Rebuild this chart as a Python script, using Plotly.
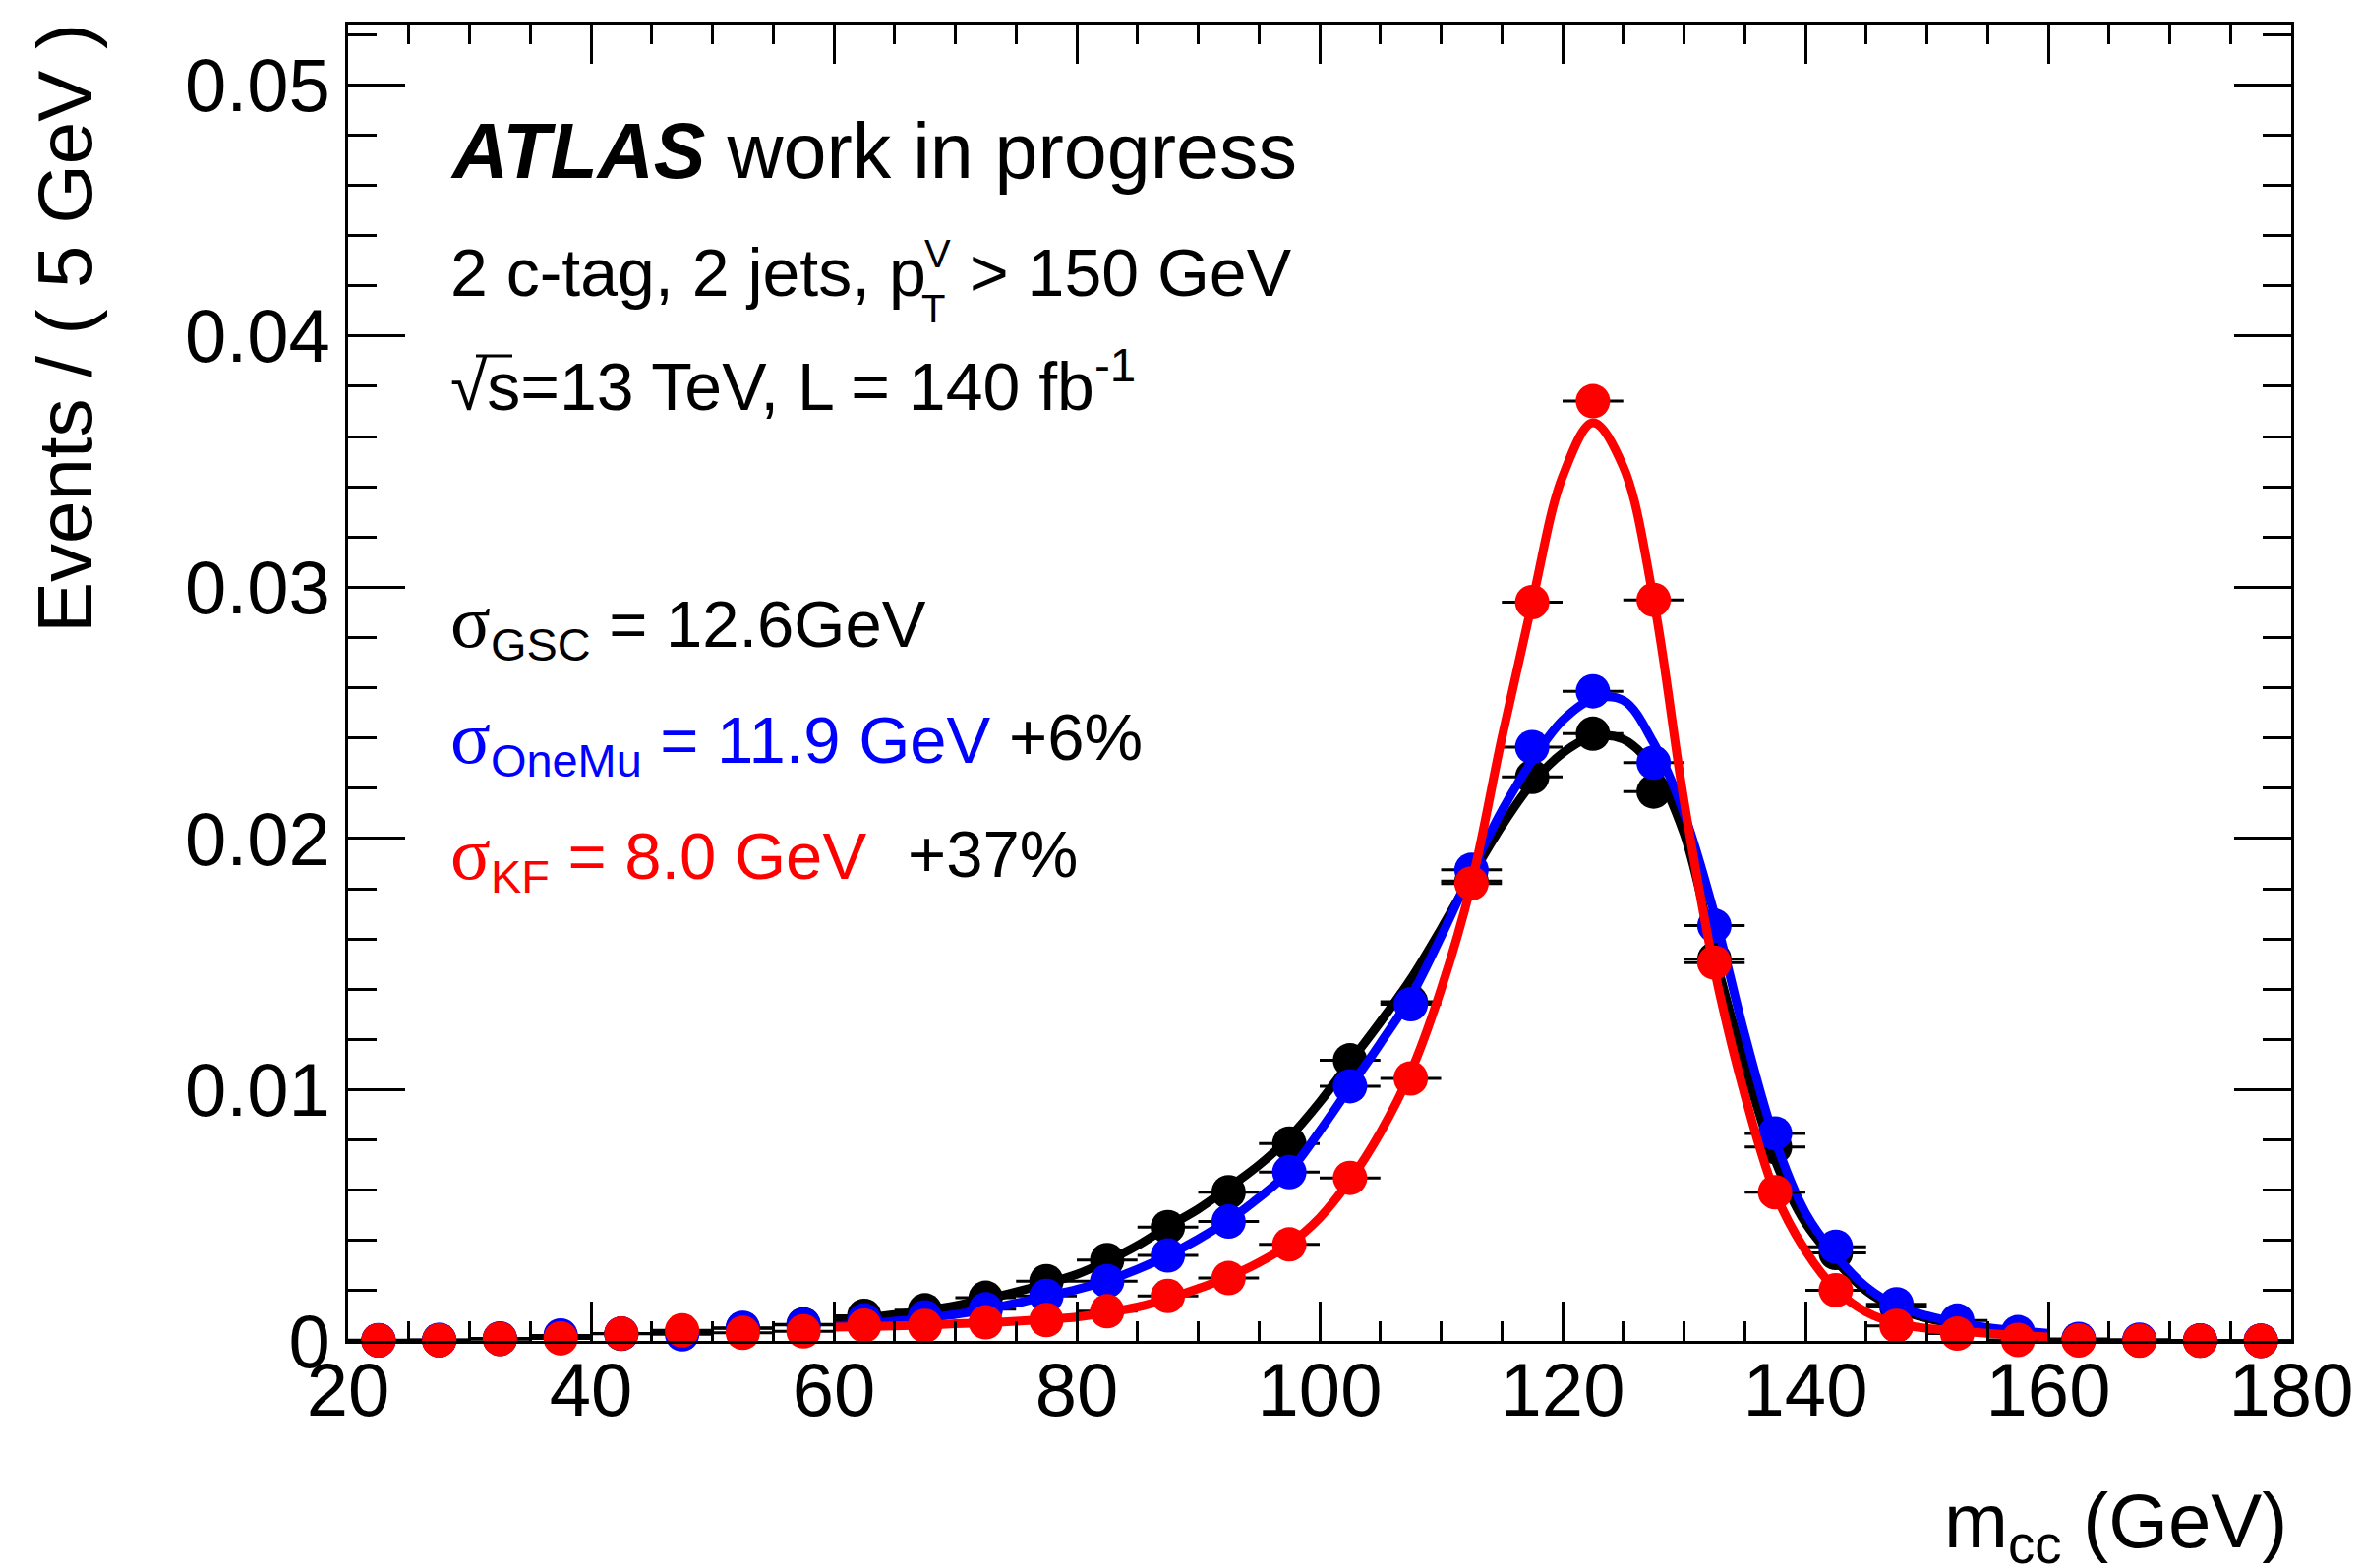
import plotly.graph_objects as go

# ---------------------------------------------------------------------------
# Binned m_cc distributions (normalised, 5 GeV bins) and fitted line shapes
# ---------------------------------------------------------------------------
bin_centers = [22.5, 27.5, 32.5, 37.5, 42.5, 47.5, 52.5, 57.5, 62.5, 67.5,
               72.5, 77.5, 82.5, 87.5, 92.5, 97.5, 102.5, 107.5, 112.5, 117.5,
               122.5, 127.5, 132.5, 137.5, 142.5, 147.5, 152.5, 157.5, 162.5,
               167.5, 172.5, 177.5]
bin_half_width = [2.5] * len(bin_centers)

gsc_y = [0.00002, 0.00003, 0.00008, 0.00018, 0.00028, 0.00035, 0.00050, 0.00066,
         0.00100, 0.00122, 0.00172, 0.00238, 0.00322, 0.00453, 0.00592, 0.00786,
         0.01117, 0.01350, 0.01830, 0.02245, 0.02417, 0.02187, 0.01520, 0.00772,
         0.00350, 0.00135, 0.00050, 0.00020, 0.00005, 0.00002, 0.00001, 0.00000]

onemu_y = [0.00003, 0.00004, 0.00010, 0.00022, 0.00029, 0.00026, 0.00052, 0.00064,
           0.00082, 0.00094, 0.00126, 0.00179, 0.00238, 0.00340, 0.00475, 0.00672,
           0.01014, 0.01340, 0.01875, 0.02364, 0.02586, 0.02302, 0.01653, 0.00826,
           0.00375, 0.00146, 0.00081, 0.00035, 0.00008, 0.00005, 0.00002, 0.00001]

kf_y = [0.00002, 0.00002, 0.00008, 0.00010, 0.00029, 0.00042, 0.00032, 0.00038,
        0.00061, 0.00060, 0.00074, 0.00083, 0.00118, 0.00179, 0.00250, 0.00384,
        0.00649, 0.01045, 0.01821, 0.02941, 0.03741, 0.02950, 0.01506, 0.00592,
        0.00202, 0.00060, 0.00029, 0.00004, 0.00002, 0.00001, 0.00001, 0.00000]

# fitted curves sampled on the fit range 60-160 GeV
fit_x = [60, 62.5, 65, 67.5, 70, 72.5, 75, 77.5, 80, 82.5, 85, 87.5, 90, 92.5,
         95, 97.5, 100, 102.5, 105, 107.5, 110, 112.5, 115, 117.5, 120, 122.5,
         125, 127.5, 130, 132.5, 135, 137.5, 140, 142.5, 145, 147.5, 150, 152.5,
         155, 157.5, 160]

gsc_fit = [0.00080, 0.00092, 0.00105, 0.00121, 0.00140, 0.00166, 0.00195, 0.00228,
           0.00265, 0.00318, 0.00380, 0.00455, 0.00525, 0.00610, 0.00700, 0.00810,
           0.00950, 0.01110, 0.01270, 0.01440, 0.01640, 0.01850, 0.02050, 0.02220,
           0.02340, 0.02405, 0.02395, 0.02280, 0.02020, 0.01540, 0.01100, 0.00720,
           0.00470, 0.00320, 0.00200, 0.00130, 0.00090, 0.00065, 0.00048, 0.00036,
           0.00028]

onemu_fit = [0.00060, 0.00068, 0.00078, 0.00090, 0.00105, 0.00125, 0.00150, 0.00178,
             0.00205, 0.00240, 0.00285, 0.00340, 0.00405, 0.00480, 0.00570, 0.00675,
             0.00835, 0.01010, 0.01185, 0.01370, 0.01610, 0.01870, 0.02110, 0.02310,
             0.02470, 0.02555, 0.02550, 0.02380, 0.02100, 0.01700, 0.01220, 0.00800,
             0.00510, 0.00340, 0.00215, 0.00140, 0.00100, 0.00072, 0.00053, 0.00040,
             0.00030]

kf_fit = [0.00055, 0.00057, 0.00060, 0.00063, 0.00068, 0.00072, 0.00078, 0.00085,
          0.00095, 0.00112, 0.00135, 0.00168, 0.00208, 0.00255, 0.00312, 0.00385,
          0.00490, 0.00640, 0.00830, 0.01070, 0.01400, 0.01820, 0.02400, 0.02940,
          0.03440, 0.03655, 0.03480, 0.02950, 0.02150, 0.01480, 0.00980, 0.00590,
          0.00360, 0.00205, 0.00115, 0.00070, 0.00050, 0.00040, 0.00030, 0.00022,
          0.00016]

x_ticks = [20, 40, 60, 80, 100, 120, 140, 160, 180]
x_tick_text = ["20", "40", "60", "80", "100", "120", "140", "160", "180"]
y_ticks = [0, 0.01, 0.02, 0.03, 0.04, 0.05]
y_tick_text = ["0", "0.01", "0.02", "0.03", "0.04", "0.05"]

# ---------------------------------------------------------------------------
W, H = 2403, 1595
L, R, T, B = 354, 2330, 25, 1364
FONT = "Liberation Sans"
SERIF = "Liberation Serif"


def px(x):
    return (x - L) / (R - L)


def py(y):
    return (B - y) / (B - T)


fig = go.Figure()

series = [
    ("GSC", gsc_y, gsc_fit, "#000000"),
    ("OneMu", onemu_y, onemu_fit, "#0000ff"),
    ("KF", kf_y, kf_fit, "#ff0000"),
]
for name, pts, fit, col in series:
    fig.add_trace(go.Scatter(
        x=bin_centers, y=pts, mode="markers", name=name,
        marker=dict(size=35, color=col, line=dict(width=0)),
        error_x=dict(type="data", array=bin_half_width, symmetric=True,
                     color="#000000", thickness=3, width=0),
        showlegend=False, cliponaxis=False,
    ))
    fig.add_trace(go.Scatter(
        x=fit_x, y=fit, mode="lines", name=name + " fit",
        line=dict(color=col, width=9, shape="spline", smoothing=1.0),
        showlegend=False,
    ))

axis_common = dict(
    showline=True, linecolor="black", linewidth=3, mirror="allticks",
    ticks="inside", tickwidth=3, tickcolor="black", showgrid=False,
    zeroline=False, tickfont=dict(family=FONT, size=76, color="black"),
)

fig.update_xaxes(
    range=[20, 180], tickmode="array", tickvals=x_ticks, ticktext=x_tick_text,
    ticklen=40, ticklabelstandoff=-18,
    minor=dict(dtick=5, tick0=0, ticks="inside", ticklen=20, tickwidth=3,
               tickcolor="black", showgrid=False),
    **axis_common,
)
fig.update_yaxes(
    range=[0, 0.0524], tickmode="array", tickvals=y_ticks, ticktext=y_tick_text,
    ticklen=58,
    minor=dict(dtick=0.002, tick0=0, ticks="inside", ticklen=29, tickwidth=3,
               tickcolor="black", showgrid=False),
    **axis_common,
)

annotations = []


def label(text, x, y, size, color="black", xanchor="left", yanchor="middle",
          angle=0):
    annotations.append(dict(
        text=text, x=px(x), y=py(y), xref="paper", yref="paper",
        xanchor=xanchor, yanchor=yanchor, showarrow=False, textangle=angle,
        font=dict(family=FONT, size=size, color=color),
    ))


sig = '<span style="font-family:%s;font-size:76px">σ</span>' % SERIF

label("<b><i>ATLAS</i></b> work in progress", 456, 153, 79)
label("2 c-tag, 2 jets, p", 456, 277, 68)
label("V", 938, 258, 40)
label("T", 935, 314, 40)
label("> 150 GeV", 984, 277, 68)
label("√s=13 TeV, L = 140 fb<sup>-1</sup>", 456, 388, 68)

label(sig + "<sub>GSC</sub> = 12.6GeV", 456, 636, 67)
label(sig + "<sub>OneMu</sub> = 11.9 GeV", 456, 754, 67, color="#0000ff")
label("+6%", 1024, 750, 67)
label(sig + "<sub>KF</sub> = 8.0 GeV", 456, 872, 67, color="#ff0000")
label("+37%", 921, 868, 67)

label("m<sub>cc</sub> (GeV)", 2328, 1552, 78, xanchor="right")
label("Events / ( 5 GeV )", 66, 22, 78, xanchor="center", yanchor="top",
      angle=-90)

# overbar of the square-root sign
shapes = [dict(type="line", xref="paper", yref="paper",
               x0=px(484), x1=px(521), y0=py(362), y1=py(362),
               line=dict(color="black", width=3))]

fig.update_layout(
    width=W, height=H,
    margin=dict(l=L, r=W - R, t=T, b=H - B, autoexpand=False),
    paper_bgcolor="white", plot_bgcolor="white",
    annotations=annotations, shapes=shapes,
    font=dict(family=FONT, color="black"),
)

fig.write_html("out.html")
